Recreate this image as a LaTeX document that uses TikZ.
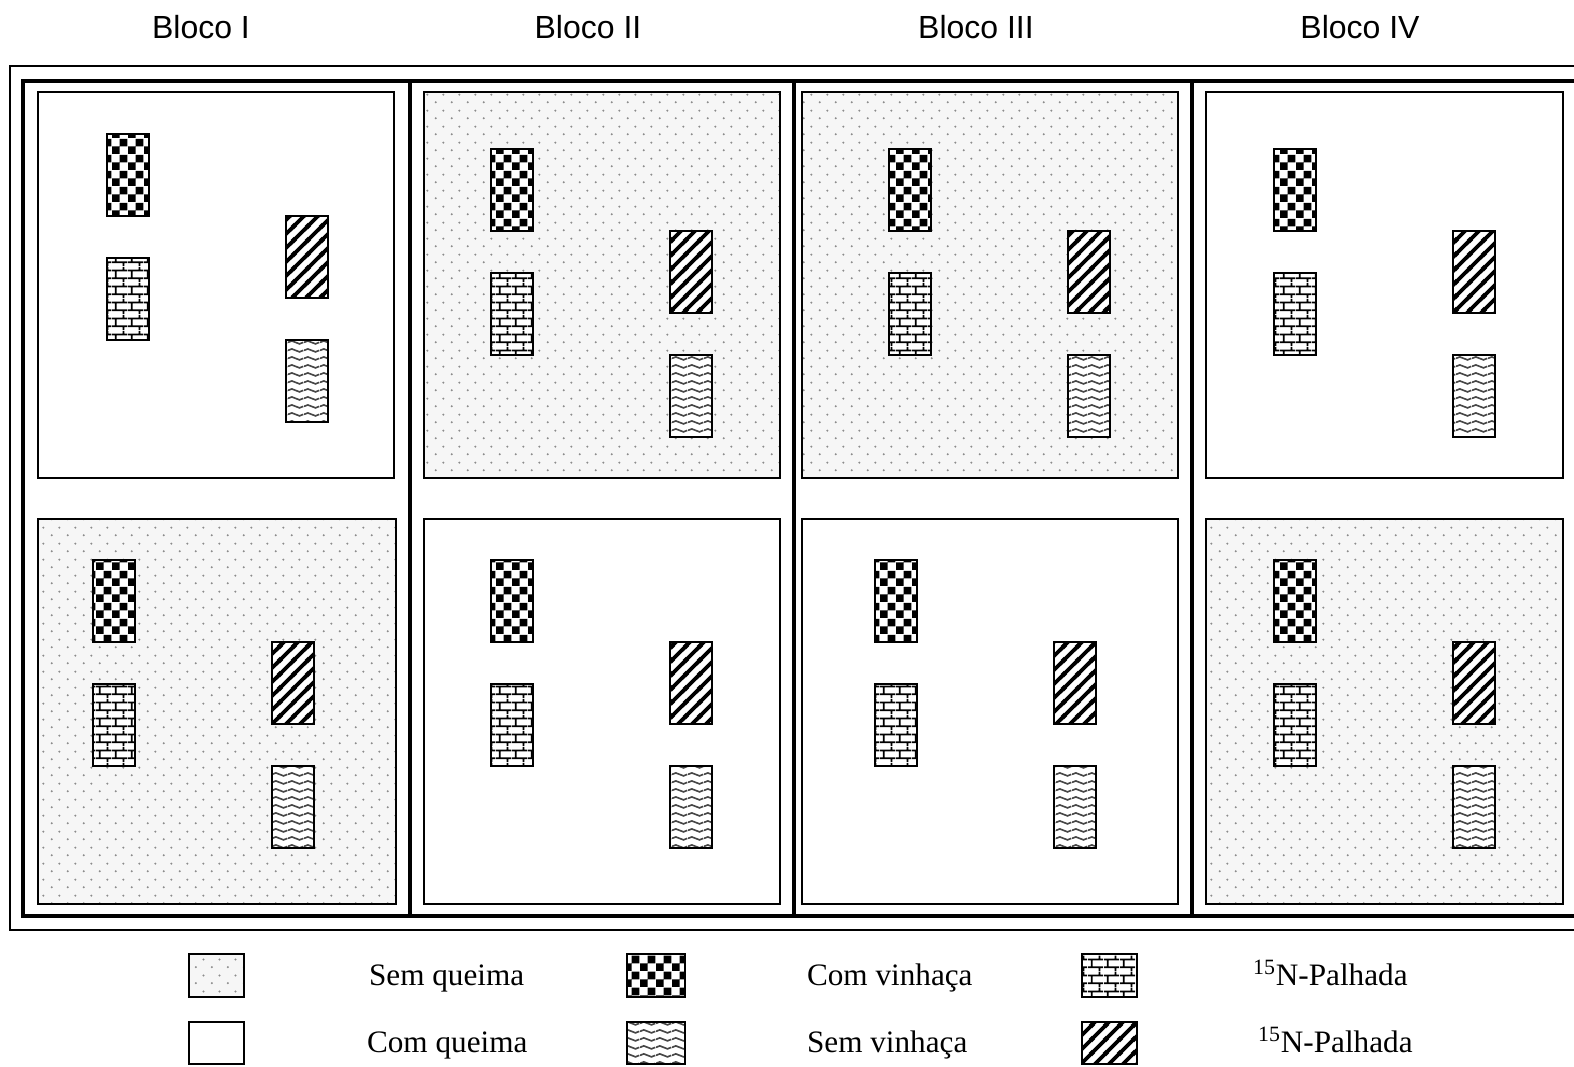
\documentclass[tikz,border=0pt]{standalone}
\usepackage{fontspec}
\setmainfont{Liberation Serif}
\setsansfont{Liberation Sans}
\usepackage{xcolor}
\usetikzlibrary{patterns}
\definecolor{fundo}{RGB}{246, 246, 246}
\definecolor{ponto}{RGB}{140, 140, 140}
\definecolor{onda}{RGB}{70, 70, 70}

% padroes das parcelas
\pgfdeclarepatternformonly{xadrez}{\pgfqpoint{0pt}{0pt}}{\pgfqpoint{8pt}{8pt}}{\pgfqpoint{8pt}{8pt}}{%
  \pgfpathrectangle{\pgfpointorigin}{\pgfqpoint{4pt}{4pt}}%
  \pgfpathrectangle{\pgfqpoint{4pt}{4pt}}{\pgfqpoint{4pt}{4pt}}%
  \pgfusepath{fill}}
\pgfdeclarepatternformonly{tijolos}{\pgfqpoint{0pt}{0pt}}{\pgfqpoint{8pt}{8pt}}{\pgfqpoint{8pt}{8pt}}{%
  \pgfsetlinewidth{0.9pt}%
  \pgfpathmoveto{\pgfqpoint{0pt}{2pt}}\pgfpathlineto{\pgfqpoint{8pt}{2pt}}%
  \pgfpathmoveto{\pgfqpoint{0pt}{6pt}}\pgfpathlineto{\pgfqpoint{8pt}{6pt}}%
  \pgfpathmoveto{\pgfqpoint{2pt}{2pt}}\pgfpathlineto{\pgfqpoint{2pt}{6pt}}%
  \pgfpathmoveto{\pgfqpoint{6pt}{6pt}}\pgfpathlineto{\pgfqpoint{6pt}{8pt}}%
  \pgfpathmoveto{\pgfqpoint{6pt}{0pt}}\pgfpathlineto{\pgfqpoint{6pt}{2pt}}%
  \pgfusepath{stroke}}
\pgfdeclarepatternformonly{listras}{\pgfqpoint{0pt}{0pt}}{\pgfqpoint{7pt}{7pt}}{\pgfqpoint{7pt}{7pt}}{%
  \pgfsetlinewidth{2pt}%
  \pgfpathmoveto{\pgfqpoint{-1pt}{-1pt}}\pgfpathlineto{\pgfqpoint{8pt}{8pt}}%
  \pgfpathmoveto{\pgfqpoint{-1pt}{6pt}}\pgfpathlineto{\pgfqpoint{1pt}{8pt}}%
  \pgfpathmoveto{\pgfqpoint{6pt}{-1pt}}\pgfpathlineto{\pgfqpoint{8pt}{1pt}}%
  \pgfusepath{stroke}}
\pgfdeclarepatternformonly{ondas}{\pgfqpoint{0pt}{0pt}}{\pgfqpoint{8pt}{4pt}}{\pgfqpoint{8pt}{4pt}}{%
  \pgfsetlinewidth{0.9pt}%
  \pgfpathmoveto{\pgfqpoint{0pt}{2pt}}%
  \pgfpathcurveto{\pgfqpoint{1.33pt}{3.1pt}}{\pgfqpoint{2.67pt}{3.1pt}}{\pgfqpoint{4pt}{2pt}}%
  \pgfpathcurveto{\pgfqpoint{5.33pt}{0.9pt}}{\pgfqpoint{6.67pt}{0.9pt}}{\pgfqpoint{8pt}{2pt}}%
  \pgfusepath{stroke}}
\pgfdeclarepatternformonly{pontos}{\pgfqpoint{0pt}{0pt}}{\pgfqpoint{8pt}{8pt}}{\pgfqpoint{8pt}{8pt}}{%
  \pgfpathcircle{\pgfqpoint{2pt}{2pt}}{0.6pt}%
  \pgfpathcircle{\pgfqpoint{6pt}{6pt}}{0.6pt}%
  \pgfusepath{fill}}

% quatro parcelas de um talhao (canto do xadrez)
\newcommand{\grupo}[2]{%
  \draw[parcela, pattern=xadrez] (#1,#2) rectangle ++(42,82);
  \draw[parcela, pattern=tijolos] (#1,#2+124) rectangle ++(42,82);
  \draw[parcela, pattern=listras] (#1+179,#2+82) rectangle ++(42,82);
  \draw[parcela, pattern=ondas, pattern color=onda] (#1+179,#2+206) rectangle ++(42,82);
}

\begin{document}
\begin{tikzpicture}[x=0.5pt, y=-0.5pt,
    talhao/.style={draw, line width=1pt},
    semqueima/.style={talhao, preaction={fill=fundo}, pattern=pontos, pattern color=ponto},
    parcela/.style={draw, line width=1.2pt, preaction={fill=white}},
    rotulo/.style={anchor=base, font=\sffamily\fontsize{16}{19}\selectfont},
    legenda/.style={anchor=base west, font=\fontsize{15.6}{19}\selectfont}]
  \useasboundingbox (0,0) rectangle (1574,1066);
  \clip (0,0) rectangle (1574,1066);

  % blocos
  \node[rotulo] (b1) at (201,38) {Bloco I};
  \node[rotulo] (b2) at (588,38) {Bloco II};
  \node[rotulo] (b3) at (976,38) {Bloco III};
  \node[rotulo] (b4) at (1360,38) {Bloco IV};

  % molduras
  \draw[line width=0.9pt] (10,66) rectangle (1620,930);
  \draw[line width=2.2pt] (23,81) rectangle (1610,916);
  \draw[line width=2.2pt] (410,81) -- (410,916);
  \draw[line width=2.2pt] (794,81) -- (794,916);
  \draw[line width=2.2pt] (1192,81) -- (1192,916);

  % talhoes
  \draw[talhao] (38,92) rectangle (394,478);
  \draw[semqueima] (38,519) rectangle (396,904);
  \draw[semqueima] (424,92) rectangle (780,478);
  \draw[talhao] (424,519) rectangle (780,904);
  \draw[semqueima] (802,92) rectangle (1178,478);
  \draw[talhao] (802,519) rectangle (1178,904);
  \draw[talhao] (1206,92) rectangle (1563,478);
  \draw[semqueima] (1206,519) rectangle (1563,904);

  % parcelas
  \grupo{107}{134}
  \grupo{93}{560}
  \grupo{491}{149}
  \grupo{491}{560}
  \grupo{889}{149}
  \grupo{875}{560}
  \grupo{1274}{149}
  \grupo{1274}{560}

  % legenda
  \draw[semqueima, line width=1.2pt] (189,954) rectangle (244,997);
  \draw[talhao, line width=1.2pt] (189,1022) rectangle (244,1064);
  \draw[parcela, pattern=xadrez] (627,954) rectangle (685,997);
  \draw[parcela, pattern=ondas, pattern color=onda] (627,1022) rectangle (685,1064);
  \draw[parcela, pattern=tijolos] (1082,954) rectangle (1137,997);
  \draw[parcela, pattern=listras] (1082,1022) rectangle (1137,1064);
  \node[legenda] (l1) at (362,985) {Sem queima};
  \node[legenda] (l2) at (360,1052) {Com queima};
  \node[legenda] (l3) at (800,985) {Com vinhaça};
  \node[legenda] (l4) at (800,1052) {Sem vinhaça};
  \node[legenda] (l5) at (1246,985) {\textsuperscript{15}N-Palhada};
  \node[legenda] (l6) at (1251,1052) {\textsuperscript{15}N-Palhada};
\end{tikzpicture}
\end{document}
